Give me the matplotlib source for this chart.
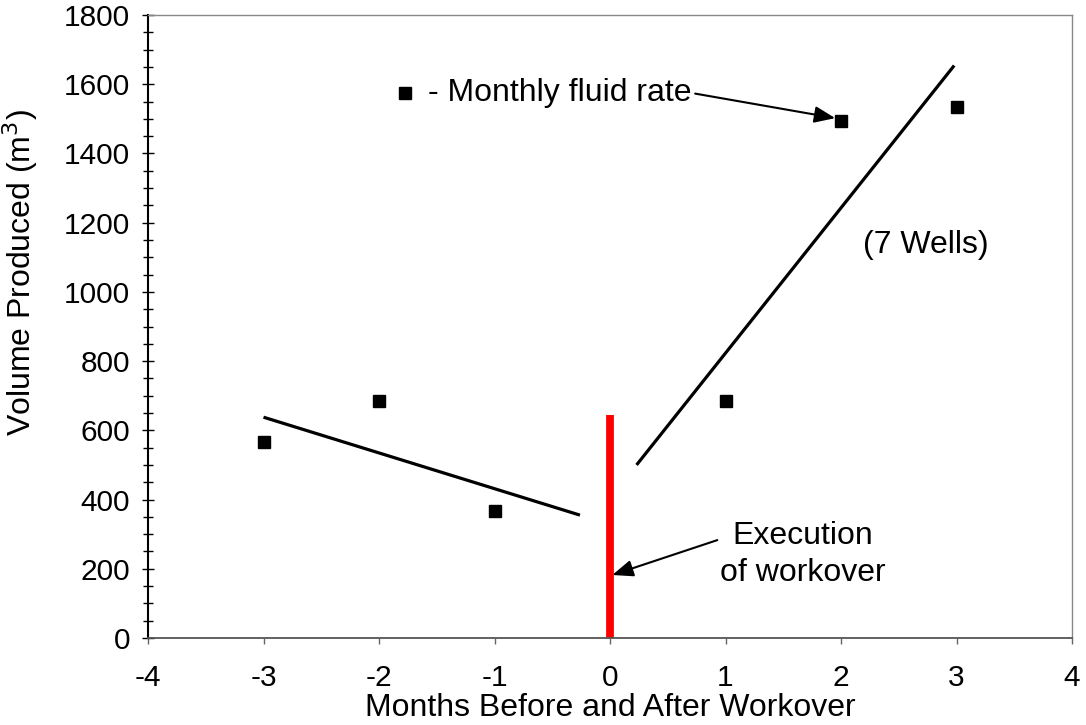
"""Monthly fluid rate before and after a workover (7 wells)."""

import matplotlib

matplotlib.use("Agg")
import matplotlib.pyplot as plt
import matplotlib.ticker as mticker

plt.rcParams["font.family"] = ["Liberation Sans", "DejaVu Sans"]
plt.rcParams["axes.unicode_minus"] = False

# monthly fluid rate, m3
months = [-3, -2, -1, 1, 2, 3]
volume = [565, 685, 367, 685, 1494, 1534]

# hand-drawn trend lines (end points)
trend_before_x = [-3.0, -0.26]
trend_before_y = [638, 355]
trend_after_x = [0.23, 2.98]
trend_after_y = [500, 1654]

# workover marker at month 0
workover_x = 0
workover_top = 644

FS_TICK = 21.5
FS = 23

fig = plt.figure(figsize=(10.86, 7.25), dpi=100)
ax = fig.add_axes([148 / 1086, 1 - 638 / 725, 924 / 1086, 623 / 725])

ax.plot(trend_before_x, trend_before_y, color="black", lw=2.3, solid_capstyle="butt")
ax.plot(trend_after_x, trend_after_y, color="black", lw=2.3, solid_capstyle="butt")
ax.plot([workover_x, workover_x], [0, workover_top], color="#ff0000", lw=5.6,
        solid_capstyle="butt")
ax.plot(months, volume, ls="none", marker="s", ms=9, color="black", mec="black")

# legend-like label with arrow
head = "-|>,head_length=0.55,head_width=0.22"
ax.plot([-1.775], [1575], ls="none", marker="s", ms=9, color="black")
ax.annotate("- Monthly fluid rate", xy=(1.95, 1502), xytext=(-1.58, 1575),
            fontsize=FS, va="center", ha="left",
            arrowprops=dict(arrowstyle=head, color="black", lw=1.5,
                            shrinkA=1, shrinkB=0, relpos=(1.0, 0.5)))

ax.text(2.73, 1135, "(7 Wells)", fontsize=FS, ha="center", va="center")

ax.annotate("Execution\nof workover", xy=(0.02, 182), xytext=(1.67, 240),
            fontsize=FS, ha="center", va="center", linespacing=1.3,
            arrowprops=dict(arrowstyle=head, color="black", lw=1.5,
                            shrinkA=0, shrinkB=0, relpos=(0.03, 0.76)))

ax.set_xlim(-4, 4)
ax.set_ylim(0, 1800)
ax.xaxis.set_major_locator(mticker.MultipleLocator(1))
ax.yaxis.set_major_locator(mticker.MultipleLocator(200))
ax.yaxis.set_minor_locator(mticker.MultipleLocator(50))

ax.tick_params(axis="y", which="major", direction="inout", length=8, width=1,
               labelsize=FS_TICK, pad=9)
ax.tick_params(axis="y", which="minor", direction="inout", length=7, width=1)
ax.tick_params(axis="x", which="major", direction="out", length=4, width=1,
               color="#666666", labelsize=FS_TICK, pad=15)

ax.spines["left"].set_linewidth(1.5)
ax.spines["left"].set_color("black")
ax.spines["bottom"].set_color("#555555")
ax.spines["bottom"].set_linewidth(1.3)
for s in ("top", "right"):
    ax.spines[s].set_color("#888888")
    ax.spines[s].set_linewidth(1.0)

ax.set_xlabel("Months Before and After Workover", fontsize=FS)
ax.set_ylabel("Volume Produced (m$^3$)", fontsize=FS)
ax.xaxis.set_label_coords(0.5, -0.088)
ax.yaxis.set_label_coords(-0.117, 0.586)

fig.savefig("out.png", dpi=100)
